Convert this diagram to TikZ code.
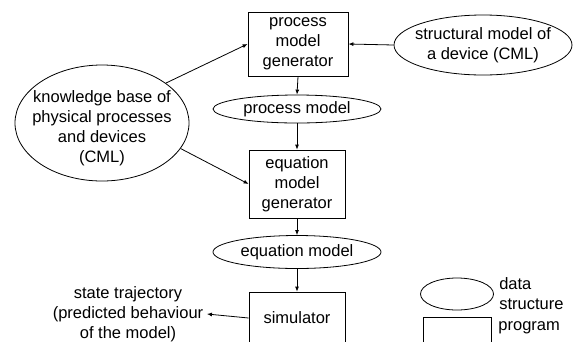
\documentclass[tikz,border=0pt]{standalone}
\usepackage{fontspec}
\setmainfont{Liberation Sans}
\usetikzlibrary{shapes.geometric,arrows.meta}
\tikzset{
  prog/.style={draw, rectangle, align=center, inner sep=0pt},
  datanode/.style={draw, ellipse, align=center, inner sep=0pt},
  flow/.style={-{Latex[length=5pt,width=4pt]}},
}
\begin{document}
\begin{tikzpicture}[x=1pt, y=-1pt, font=\fontsize{16.5}{20}\selectfont, line width=0.8pt]
    \useasboundingbox (0,0) rectangle (577,341);
    \clip (0,0) rectangle (577,341);

    % programs:
    \node[prog, minimum width=100pt, minimum height=64pt] (pmg) at (298,44) {process\\model\\generator};
    \node[prog, minimum width=96pt, minimum height=68pt] (emg) at (297,184) {equation\\model\\generator};
    \node[prog, minimum width=96pt, minimum height=52pt] (sim) at (297,318) {simulator};

    % data structures:
    \node[datanode, minimum width=174pt, minimum height=116pt] (kb) at (102,123) {};
    \node[align=center, inner sep=0pt] (kbtext) at (102,128) {knowledge base of\\physical processes\\and devices\\(CML)};
    \node[datanode, inner xsep=-8pt, minimum width=178pt, minimum height=60pt] (sm) at (483,45) {structural model of\\a device (CML)};
    \node[datanode, minimum width=168pt, minimum height=28pt] (pm) at (297,109) {process model};
    \node[datanode, minimum width=168pt, minimum height=33pt] (em) at (297,252) {equation model};

    % output:
    \node[align=center] (traj) at (128,314) {state trajectory\\(predicted behaviour\\of the model)};

    % flows:
    \draw[flow] (kb.32) -- (pmg.west);
    \draw[flow] (kb.-18) -- (emg.west);
    \draw[flow] (sm.west) -- (pmg.east);
    \draw[flow] (pmg.south) -- (pm.north);
    \draw[flow] (pm.south) -- (emg.north);
    \draw[flow] (emg.south) -- (em.north);
    \draw[flow] (em.south) -- (sim.north);
    \draw[flow] (sim.west) -- (traj.east);

    % legend:
    \node[datanode, minimum width=73pt, minimum height=32pt] (legdata) at (457,294) {};
    \node[prog, minimum width=68pt, minimum height=46pt] (legprog) at (457,340) {};
    \node[anchor=west, align=left, inner sep=1pt] (legdatatext) at ([xshift=4pt]legdata.east) {data\\structure};
    \node[anchor=west, inner sep=1pt] (legprogtext) at (497,328) {program};
\end{tikzpicture}
\end{document}
